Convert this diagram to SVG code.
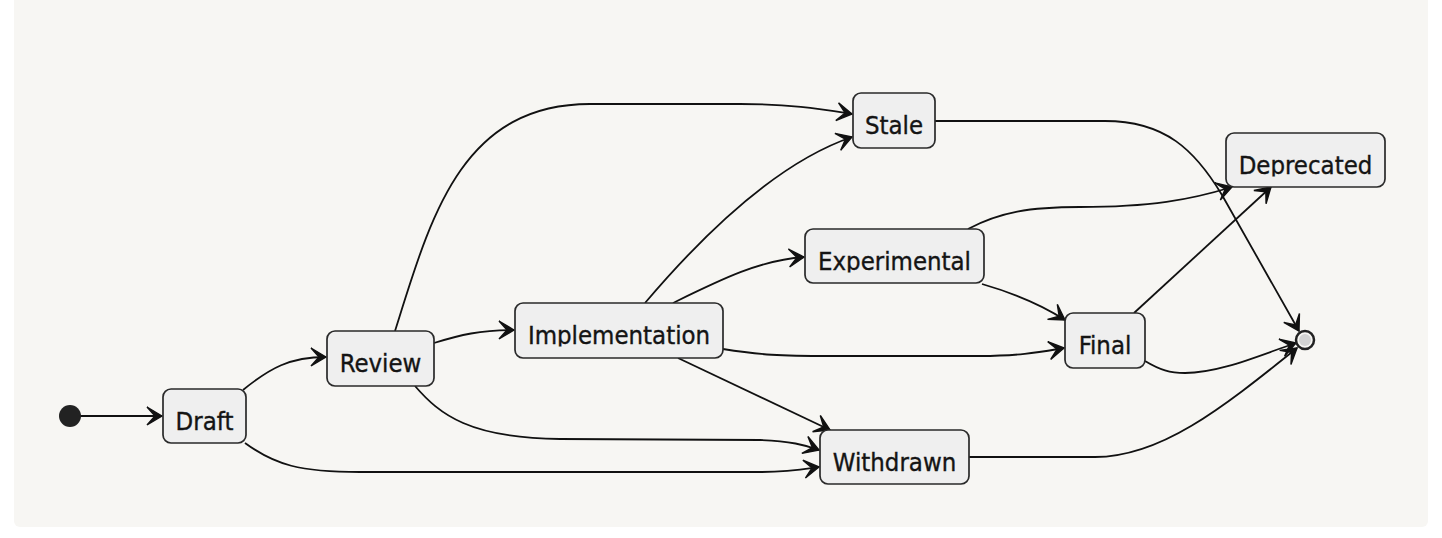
<svg xmlns="http://www.w3.org/2000/svg" width="1442" height="538" viewBox="0 0 1442 538">
<style>
.card{fill:#f7f6f3}
.node rect{fill:#efefef;stroke:#2a2a2a;stroke-width:1.7}
.node text{font-family:"DejaVu Sans Condensed","DejaVu Sans",sans-serif;font-stretch:condensed;font-size:25.5px;fill:#141414;stroke:#141414;stroke-width:0.35;text-anchor:middle}
.edge{fill:none;stroke:#111;stroke-width:1.8;marker-end:url(#arr)}
</style>
<defs>
<marker id="arr" markerUnits="userSpaceOnUse" markerWidth="24" markerHeight="24" viewBox="-18 -12 20 24" refX="0" refY="0" orient="auto">
<path d="M0,0 L-15,-9 L-7,0 L-15,9 Z" fill="#111" stroke="#111" stroke-width="1.4" stroke-linejoin="miter"/>
</marker>
<clipPath id="cDraft"><rect x="163" y="389" width="83" height="43.5"/></clipPath>
<clipPath id="cReview"><rect x="327" y="331" width="107" height="44"/></clipPath>
<clipPath id="cImpl"><rect x="515" y="303" width="208" height="43.5"/></clipPath>
<clipPath id="cStale"><rect x="853" y="93" width="82" height="44"/></clipPath>
<clipPath id="cExp"><rect x="805" y="229" width="179" height="43.5"/></clipPath>
<clipPath id="cDep"><rect x="1226" y="133" width="159" height="43.5"/></clipPath>
<clipPath id="cFinal"><rect x="1065" y="313" width="80" height="44"/></clipPath>
<clipPath id="cWith"><rect x="820" y="430" width="149" height="43.5"/></clipPath>
</defs>
<rect class="card" x="14" y="-10" width="1414" height="537" rx="6"/>
<g id="connectors">
<path class="edge" d="M80,416 L162,416"/>
<path class="edge" d="M243,390 C270,368 290,357 326,357"/>
<path class="edge" d="M245,443 C275,465 300,472 360,472 L760,472 C790,472 805,469 819,467"/>
<path class="edge" d="M434,343 C460,335 480,330 514,330"/>
<path class="edge" d="M395,331 C430,220 460,104 590,104 L740,104 C790,104 820,109 852,114"/>
<path class="edge" d="M415,386 C440,415 470,438 560,439 L760,440 C790,441 805,445 819,450"/>
<path class="edge" d="M645,303 C690,250 770,165 852,137"/>
<path class="edge" d="M673,303 C720,280 760,260 804,257"/>
<path class="edge" d="M723,349 C760,355 780,356 830,356 L980,356 C1020,356 1040,352 1064,348"/>
<path class="edge" d="M678,358 L830,430"/>
<path class="edge" d="M968,229 C1000,212 1030,207 1080,207 C1150,207 1190,200 1232,187"/>
<path class="edge" d="M982,284 C1020,295 1045,307 1065,320"/>
<path class="edge" d="M935,121 L1105,121 C1165,121 1195,150 1222,195 L1299,331"/>
<path class="edge" d="M1134,313 L1271,187"/>
<path class="edge" d="M1145,361 C1160,370 1170,373 1185,373 C1220,373 1260,355 1296,343"/>
<path class="edge" d="M969,457 L1095,457 C1160,457 1220,410 1297,348"/>
</g>
<g id="start"><circle cx="70" cy="416" r="11" fill="#222"/></g>
<g id="Draft" class="node"><rect x="163" y="389" width="83" height="54" rx="8"/><text x="204.5" y="429.5" clip-path="url(#cDraft)">Draft</text></g>
<g id="Review" class="node"><rect x="327" y="331" width="107" height="55" rx="8"/><text x="380.5" y="371.5" clip-path="url(#cReview)">Review</text></g>
<g id="Implementation" class="node"><rect x="515" y="303" width="208" height="55" rx="8"/><text x="619" y="343.5" clip-path="url(#cImpl)">Implementation</text></g>
<g id="Stale" class="node"><rect x="853" y="93" width="82" height="55" rx="8"/><text x="894" y="133.5" clip-path="url(#cStale)">Stale</text></g>
<g id="Experimental" class="node"><rect x="805" y="229" width="179" height="54" rx="8"/><text x="894.5" y="269.5" clip-path="url(#cExp)">Experimental</text></g>
<g id="Deprecated" class="node"><rect x="1226" y="133" width="159" height="54" rx="8"/><text x="1305.5" y="173.5" clip-path="url(#cDep)">Deprecated</text></g>
<g id="Final" class="node"><rect x="1065" y="313" width="80" height="55" rx="8"/><text x="1105" y="353.5" clip-path="url(#cFinal)">Final</text></g>
<g id="Withdrawn" class="node"><rect x="820" y="430" width="149" height="54" rx="8"/><text x="894.5" y="470.5" clip-path="url(#cWith)">Withdrawn</text></g>
<g id="end"><circle cx="1305" cy="340" r="9" fill="#f7f6f3" stroke="#222" stroke-width="2.5"/><circle cx="1305" cy="340" r="6" fill="#d3d3d3"/></g>
</svg>
